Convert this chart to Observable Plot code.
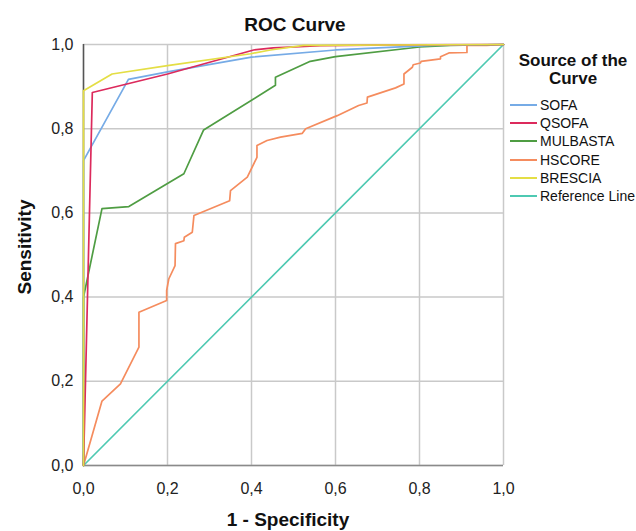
<!DOCTYPE html>
<html><head><meta charset="utf-8">
<script src="https://cdn.jsdelivr.net/npm/d3@7"></script>
<script src="https://cdn.jsdelivr.net/npm/@observablehq/plot@0.6"></script>
<style>
body{margin:0;background:#fff;font-family:"Liberation Sans",Arial,sans-serif;}
#wrap{position:relative;width:636px;height:531px;overflow:hidden;background:#fff;}
#wrap svg{position:absolute;left:0;top:0;}
.t{position:absolute;transform:translate(-50%,-50%);white-space:nowrap;color:#111;font-weight:bold;line-height:1;}
.leg{position:absolute;left:510px;font-size:14px;color:#111;white-space:nowrap;line-height:1;transform:translateY(-50%);display:flex;align-items:center;}
.leg span.sw{display:inline-block;width:27px;height:2px;margin-right:3px;}
</style>
</head><body>
<div id="wrap"></div>
<script>
const ticks = [0, 0.2, 0.4, 0.6, 0.8, 1.0];
const seriesNames = ["SOFA", "QSOFA", "MULBASTA", "HSCORE", "BRESCIA", "Reference Line"];
const seriesColors = ["#76abe6", "#dc2a5c", "#4f9d43", "#f58c5e", "#e4de45", "#4ec9b2"];

const sofaX = [0, 0, 0.107, 0.2, 0.4, 0.6, 0.83, 1];
const sofaY = [0, 0.724, 0.917, 0.935, 0.97, 0.987, 0.998, 1];

const qsofaX = [0, 0.021, 0.2, 0.405, 0.452, 0.564, 0.75, 1];
const qsofaY = [0, 0.886, 0.93, 0.987, 0.992, 0.997, 0.999, 1];

const mulbastaX = [0, 0, 0.044, 0.108, 0.239, 0.286, 0.457, 0.457, 0.54, 0.6, 0.8, 0.874, 1];
const mulbastaY = [0, 0.40, 0.61, 0.615, 0.693, 0.797, 0.903, 0.922, 0.96, 0.971, 0.994, 0.998, 1];

const hscoreX = [0, 0.044, 0.088, 0.132, 0.132, 0.198, 0.198, 0.203, 0.218, 0.219, 0.239, 0.24, 0.259, 0.263, 0.348, 0.35, 0.39, 0.413, 0.413, 0.437, 0.469, 0.521, 0.529, 0.604, 0.655, 0.675, 0.676, 0.743, 0.763, 0.763, 0.783, 0.785, 0.802, 0.804, 0.85, 0.85, 0.87, 0.913, 0.913, 0.96, 1];
const hscoreY = [0, 0.153, 0.194, 0.281, 0.364, 0.392, 0.416, 0.443, 0.475, 0.527, 0.534, 0.542, 0.554, 0.594, 0.629, 0.653, 0.685, 0.732, 0.76, 0.772, 0.78, 0.789, 0.80, 0.831, 0.855, 0.861, 0.875, 0.897, 0.906, 0.93, 0.946, 0.952, 0.956, 0.96, 0.966, 0.971, 0.98, 0.981, 0.998, 0.998, 1];

const bresciaX = [0, 0, 0.068, 0.2, 0.398, 0.445, 0.524, 1];
const bresciaY = [0, 0.89, 0.93, 0.95, 0.978, 0.987, 0.998, 1];

const refX = [0, 1];
const refY = [0, 1];

function rowsOf(name, xs, ys) { return xs.map((x, i) => ({series: name, x, y: ys[i]})); }
const curves = {
  "SOFA": rowsOf("SOFA", sofaX, sofaY),
  "QSOFA": rowsOf("QSOFA", qsofaX, qsofaY),
  "MULBASTA": rowsOf("MULBASTA", mulbastaX, mulbastaY),
  "HSCORE": rowsOf("HSCORE", hscoreX, hscoreY),
  "BRESCIA": rowsOf("BRESCIA", bresciaX, bresciaY),
  "Reference Line": rowsOf("Reference Line", refX, refY)
};
const drawOrder = ["Reference Line", "HSCORE", "MULBASTA", "SOFA", "QSOFA", "BRESCIA"];

const fmt = d => d3.format(".1f")(d).replace(".", ",");

const chart = Plot.plot({
  width: 636, height: 531,
  marginLeft: 83, marginRight: 133, marginTop: 44, marginBottom: 66,
  style: {fontFamily: "'Liberation Sans', Arial, sans-serif", fontSize: "16px", color: "#222", background: "white"},
  x: {domain: [0, 1]},
  y: {domain: [0, 1]},
  color: {domain: seriesNames, range: seriesColors},
  marks: [
    Plot.gridX(ticks, {stroke: "#c9c9c9", strokeOpacity: 1, strokeWidth: 1.5}),
    Plot.gridY(ticks, {stroke: "#c9c9c9", strokeOpacity: 1, strokeWidth: 1.5}),
    Plot.ruleY([0], {stroke: "#8a8a8a", strokeWidth: 1.5}),
    Plot.ruleX([0], {stroke: "#555", strokeWidth: 1.5}),
    Plot.axisX({ticks, tickSize: 0, tickPadding: 17, tickFormat: fmt, label: null}),
    Plot.axisY({ticks, tickSize: 0, tickPadding: 10, tickFormat: fmt, label: null}),
    ...drawOrder.map(name => Plot.line(curves[name], {x: "x", y: "y", stroke: "series", strokeWidth: 1.7}))
  ]
});

const wrap = document.getElementById("wrap");
wrap.appendChild(chart);

function addText(txt, x, y, size, extra) {
  const d = document.createElement("div");
  d.className = "t";
  d.textContent = txt;
  d.style.left = x + "px"; d.style.top = y + "px"; d.style.fontSize = size + "px";
  if (extra) d.style.transform = extra;
  wrap.appendChild(d);
}
addText("ROC Curve", 295, 24, 19);
addText("1 - Specificity", 288, 519, 19);
addText("Sensitivity", 24, 247, 19, "translate(-50%,-50%) rotate(-90deg)");
addText("Source of the", 573, 60, 17);
addText("Curve", 573, 78, 17);

seriesNames.forEach((name, i) => {
  const d = document.createElement("div");
  d.className = "leg";
  d.style.top = (105 + i * 18.2) + "px";
  const sw = document.createElement("span");
  sw.className = "sw";
  sw.style.background = seriesColors[i];
  d.appendChild(sw);
  d.appendChild(document.createTextNode(name));
  wrap.appendChild(d);
});
</script>
</body></html>
